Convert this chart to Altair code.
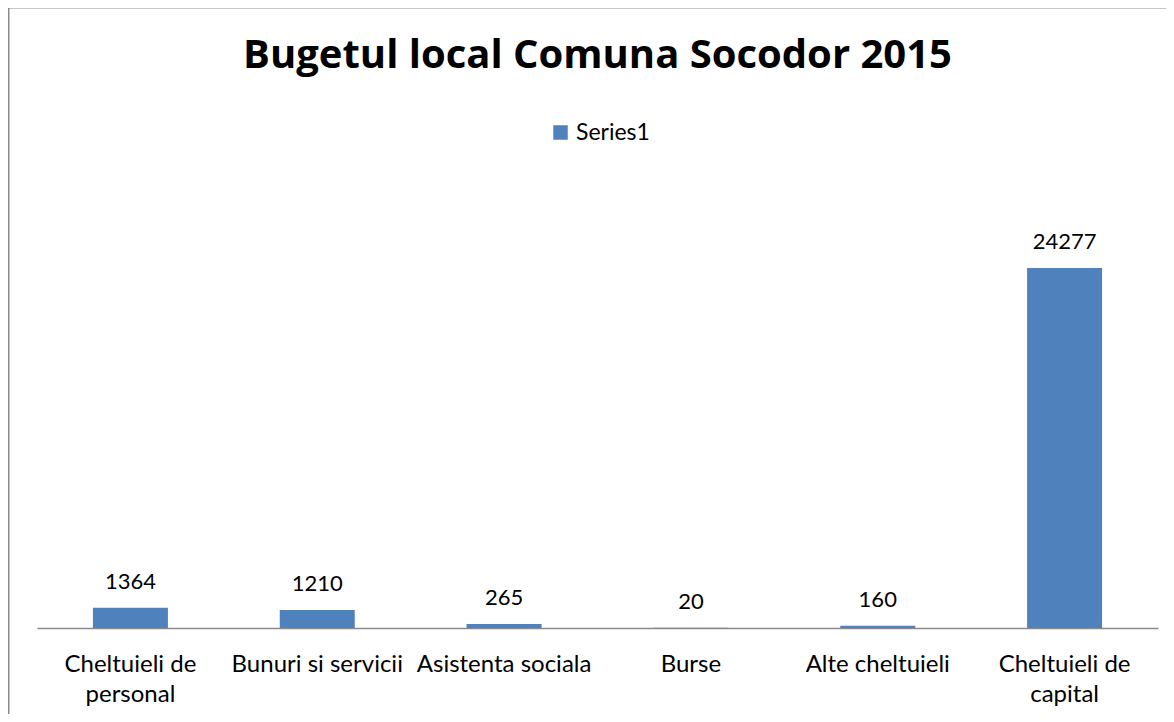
import altair as alt
import pandas as pd

categories = ["Cheltuieli de personal", "Bunuri si servicii", "Asistenta sociala",
              "Burse", "Alte cheltuieli", "Cheltuieli de capital"]
values = [1364, 1210, 265, 20, 160, 24277]
series = ["Series1"] * len(categories)
title_text = "Bugetul local Comuna Socodor 2015"

df = pd.DataFrame({"cat": categories, "val": values, "series": series})

FONT = "Lato"
BLUE = "#4F81BD"
GRAY = "#8a8a8a"

base = alt.Chart(df)

x_enc = alt.X("cat:N", sort=categories, title=None,
              scale=alt.Scale(paddingInner=0.6, paddingOuter=0.3),
              axis=alt.Axis(labelAngle=0, ticks=False, domainColor=GRAY, domainWidth=1.5,
                            labelFont=FONT, labelFontSize=24, labelColor="#000000",
                            labelPadding=24, labelLimit=400, labelOverlap=False,
                            labelLineHeight=30,
                            labelExpr="indexof(datum.label, 'Cheltuieli de ') == 0 ? ['Cheltuieli de', substring(datum.label, 14)] : datum.label"))
y_enc = alt.Y("val:Q", scale=alt.Scale(domain=[0, 30000]), axis=None, title=None)

bars = base.mark_bar(size=75).encode(
    x=x_enc,
    y=y_enc,
    color=alt.Color("series:N", title=None,
                    scale=alt.Scale(range=[BLUE]),
                    legend=alt.Legend(orient="none", legendX=512, legendY=-62,
                                      symbolType="square", symbolSize=210,
                                      symbolStrokeWidth=0, symbolOpacity=1,
                                      labelFont=FONT, labelFontSize=23,
                                      labelColor="#000000", labelOffset=4)),
)

labels = base.mark_text(baseline="alphabetic", dy=-19, font=FONT, fontSize=22,
                        color="#000000").encode(
    x=alt.X("cat:N", sort=categories),
    y=alt.Y("val:Q"),
    text=alt.Text("val:Q", format="d"),
)

one = alt.Data(values=[{}])
left_border = alt.Chart(one).mark_rule(color=GRAY, strokeWidth=2).encode(
    x=alt.value(-28.5), y=alt.value(-176), y2=alt.value(600))
top_border = alt.Chart(one).mark_rule(color=GRAY, strokeWidth=2).encode(
    x=alt.value(-29), x2=alt.value(1140), y=alt.value(-175.5))

chart = alt.layer(bars, labels, left_border, top_border).properties(
    width=1121, height=445,
    autosize=alt.AutoSizeParams(type="none"),
    padding={"left": 29, "top": 175, "right": 8, "bottom": 86},
    title=alt.TitleParams(title_text, font="Open Sans", fontSize=40, fontWeight="bold",
                          color="#000000", anchor="middle", baseline="alphabetic",
                          offset=-102),
).configure(background="white").configure_view(stroke=None)

chart.save("out.html", embed_options={"renderer": "svg", "actions": False})
